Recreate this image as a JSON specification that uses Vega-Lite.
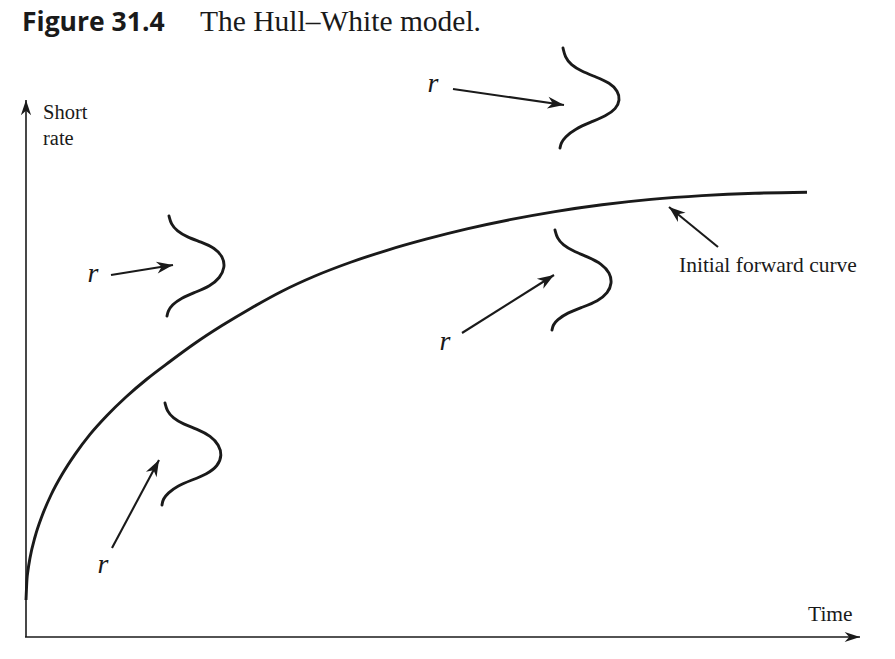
{
  "$schema": "https://vega.github.io/schema/vega-lite/v6.json",
  "width": 895,
  "height": 659,
  "autosize": {"type": "none"},
  "padding": 0,
  "background": "white",
  "config": {"view": {"stroke": null}},
  "datasets": {
    "curve": [
      {"x": 26, "y": 600}, {"x": 27, "y": 579}, {"x": 28, "y": 570.3}, {"x": 30, "y": 558}, {"x": 35, "y": 537},
      {"x": 42, "y": 516}, {"x": 51, "y": 495}, {"x": 62, "y": 474.6}, {"x": 75, "y": 454.4}, {"x": 90, "y": 434.4},
      {"x": 107, "y": 415.5}, {"x": 126, "y": 397}, {"x": 147, "y": 379}, {"x": 170, "y": 361.5}, {"x": 195, "y": 343.3},
      {"x": 222, "y": 325.6}, {"x": 251, "y": 308.2}, {"x": 282, "y": 291.2}, {"x": 315, "y": 276}, {"x": 350, "y": 262.5},
      {"x": 387, "y": 250.3}, {"x": 426, "y": 239.2}, {"x": 467, "y": 228.9}, {"x": 510, "y": 219.7}, {"x": 555, "y": 211.6},
      {"x": 602, "y": 204.8}, {"x": 651, "y": 199.4}, {"x": 702, "y": 195.6}, {"x": 755, "y": 193.2}, {"x": 807, "y": 192.2}
    ],
    "densities": [
      {"id": 1, "i": 1, "x": 563, "y": 48}, {"id": 1, "i": 2, "x": 565, "y": 57}, {"id": 1, "i": 3, "x": 571, "y": 65},
      {"id": 1, "i": 4, "x": 581, "y": 71}, {"id": 1, "i": 5, "x": 596, "y": 77}, {"id": 1, "i": 6, "x": 610, "y": 83},
      {"id": 1, "i": 7, "x": 618, "y": 91}, {"id": 1, "i": 8, "x": 620, "y": 100}, {"id": 1, "i": 9, "x": 616, "y": 109},
      {"id": 1, "i": 10, "x": 606, "y": 116}, {"id": 1, "i": 11, "x": 591, "y": 122}, {"id": 1, "i": 12, "x": 575, "y": 129},
      {"id": 1, "i": 13, "x": 565, "y": 137}, {"id": 1, "i": 14, "x": 561, "y": 143}, {"id": 1, "i": 15, "x": 560, "y": 148},
      {"id": 2, "i": 1, "x": 169, "y": 216}, {"id": 2, "i": 2, "x": 171, "y": 224}, {"id": 2, "i": 3, "x": 177, "y": 231},
      {"id": 2, "i": 4, "x": 187, "y": 237}, {"id": 2, "i": 5, "x": 201, "y": 242}, {"id": 2, "i": 6, "x": 215, "y": 248},
      {"id": 2, "i": 7, "x": 223, "y": 257}, {"id": 2, "i": 8, "x": 225, "y": 267}, {"id": 2, "i": 9, "x": 220, "y": 278},
      {"id": 2, "i": 10, "x": 210, "y": 286}, {"id": 2, "i": 11, "x": 196, "y": 292}, {"id": 2, "i": 12, "x": 181, "y": 298},
      {"id": 2, "i": 13, "x": 172, "y": 305}, {"id": 2, "i": 14, "x": 168, "y": 311}, {"id": 2, "i": 15, "x": 167, "y": 316},
      {"id": 3, "i": 1, "x": 165, "y": 403}, {"id": 3, "i": 2, "x": 167, "y": 411}, {"id": 3, "i": 3, "x": 173, "y": 418},
      {"id": 3, "i": 4, "x": 183, "y": 424}, {"id": 3, "i": 5, "x": 197, "y": 429}, {"id": 3, "i": 6, "x": 211, "y": 436},
      {"id": 3, "i": 7, "x": 219, "y": 445}, {"id": 3, "i": 8, "x": 222, "y": 455}, {"id": 3, "i": 9, "x": 218, "y": 466},
      {"id": 3, "i": 10, "x": 207, "y": 474}, {"id": 3, "i": 11, "x": 192, "y": 480}, {"id": 3, "i": 12, "x": 177, "y": 486},
      {"id": 3, "i": 13, "x": 168, "y": 493}, {"id": 3, "i": 14, "x": 163, "y": 499}, {"id": 3, "i": 15, "x": 162, "y": 505},
      {"id": 4, "i": 1, "x": 555, "y": 230}, {"id": 4, "i": 2, "x": 557, "y": 238}, {"id": 4, "i": 3, "x": 563, "y": 245},
      {"id": 4, "i": 4, "x": 573, "y": 251}, {"id": 4, "i": 5, "x": 588, "y": 257}, {"id": 4, "i": 6, "x": 602, "y": 264},
      {"id": 4, "i": 7, "x": 610, "y": 273}, {"id": 4, "i": 8, "x": 612, "y": 283}, {"id": 4, "i": 9, "x": 608, "y": 293},
      {"id": 4, "i": 10, "x": 598, "y": 301}, {"id": 4, "i": 11, "x": 583, "y": 307}, {"id": 4, "i": 12, "x": 567, "y": 313},
      {"id": 4, "i": 13, "x": 557, "y": 320}, {"id": 4, "i": 14, "x": 553, "y": 325}, {"id": 4, "i": 15, "x": 552, "y": 330}
    ],
    "arrows": [
      {"x": 453, "y": 89, "x2": 564, "y2": 105},
      {"x": 111, "y": 275, "x2": 173, "y2": 265},
      {"x": 112, "y": 548, "x2": 159, "y2": 460},
      {"x": 462, "y": 333, "x2": 554, "y2": 275},
      {"x": 718, "y": 247, "x2": 669, "y2": 207}
    ],
    "axes": [
      {"x": 26, "y": 637, "x2": 26, "y2": 100},
      {"x": 25, "y": 637, "x2": 860, "y2": 637}
    ],
    "rs": [
      {"x": 433, "y": 92, "t": "r"},
      {"x": 93, "y": 282, "t": "r"},
      {"x": 103, "y": 573, "t": "r"},
      {"x": 445, "y": 350, "t": "r"}
    ],
    "labels": [
      {"x": 43, "y": 119, "t": "Short"},
      {"x": 43, "y": 145, "t": "rate"}
    ],
    "labels2": [
      {"x": 808, "y": 621, "t": "Time"},
      {"x": 679, "y": 272, "t": "Initial forward curve"}
    ],
    "title1": [{"x": 22, "y": 31, "t": "Figure 31.4"}],
    "title2": [{"x": 200, "y": 31, "t": "The Hull–White model."}]
  },
  "layer": [
    {
      "data": {"name": "axes"},
      "mark": {"type": "rule", "color": "#1a1a1a", "strokeWidth": 1.6},
      "encoding": {
        "x": {"field": "x", "type": "quantitative", "scale": {"domain": [0, 895], "nice": false, "zero": false}, "axis": null},
        "y": {"field": "y", "type": "quantitative", "scale": {"domain": [0, 659], "nice": false, "zero": false, "reverse": true}, "axis": null},
        "x2": {"field": "x2"},
        "y2": {"field": "y2"}
      }
    },
    {
      "data": {"name": "axes"},
      "transform": [{"calculate": "atan2(datum.x2 - datum.x, datum.y - datum.y2) * 180 / PI", "as": "ang"}],
      "mark": {"type": "point", "filled": true, "color": "#1a1a1a", "opacity": 1, "strokeWidth": 0, "size": 420, "shape": "M0,0L0.5,1.5L0,1.05L-0.5,1.5Z"},
      "encoding": {
        "x": {"field": "x2", "type": "quantitative"},
        "y": {"field": "y2", "type": "quantitative"},
        "angle": {"field": "ang", "type": "quantitative", "scale": null}
      }
    },
    {
      "data": {"name": "curve"},
      "mark": {"type": "line", "color": "#1a1a1a", "strokeWidth": 2.9, "interpolate": "monotone"},
      "encoding": {
        "x": {"field": "x", "type": "quantitative"},
        "y": {"field": "y", "type": "quantitative"}
      }
    },
    {
      "data": {"name": "densities"},
      "mark": {"type": "line", "color": "#1a1a1a", "strokeWidth": 2.9, "interpolate": "basis", "strokeCap": "round"},
      "encoding": {
        "x": {"field": "x", "type": "quantitative"},
        "y": {"field": "y", "type": "quantitative"},
        "detail": {"field": "id", "type": "nominal"},
        "order": {"field": "i", "type": "quantitative"}
      }
    },
    {
      "data": {"name": "arrows"},
      "mark": {"type": "rule", "color": "#1a1a1a", "strokeWidth": 2.1},
      "encoding": {
        "x": {"field": "x", "type": "quantitative"},
        "y": {"field": "y", "type": "quantitative"},
        "x2": {"field": "x2"},
        "y2": {"field": "y2"}
      }
    },
    {
      "data": {"name": "arrows"},
      "transform": [{"calculate": "atan2(datum.x2 - datum.x, datum.y - datum.y2) * 180 / PI", "as": "ang"}],
      "mark": {"type": "point", "filled": true, "color": "#1a1a1a", "opacity": 1, "strokeWidth": 0, "size": 480, "shape": "M0,0L0.55,1.5L0,1.05L-0.55,1.5Z"},
      "encoding": {
        "x": {"field": "x2", "type": "quantitative"},
        "y": {"field": "y2", "type": "quantitative"},
        "angle": {"field": "ang", "type": "quantitative", "scale": null}
      }
    },
    {
      "data": {"name": "rs"},
      "mark": {"type": "text", "font": "Liberation Serif", "fontStyle": "italic", "fontSize": 28, "align": "center", "baseline": "alphabetic", "color": "#1a1a1a"},
      "encoding": {
        "x": {"field": "x", "type": "quantitative"},
        "y": {"field": "y", "type": "quantitative"},
        "text": {"field": "t"}
      }
    },
    {
      "data": {"name": "labels"},
      "mark": {"type": "text", "font": "Liberation Serif", "fontSize": 20.5, "align": "left", "baseline": "alphabetic", "color": "#1a1a1a"},
      "encoding": {
        "x": {"field": "x", "type": "quantitative"},
        "y": {"field": "y", "type": "quantitative"},
        "text": {"field": "t"}
      }
    },
    {
      "data": {"name": "labels2"},
      "mark": {"type": "text", "font": "Liberation Serif", "fontSize": 21.5, "align": "left", "baseline": "alphabetic", "color": "#1a1a1a"},
      "encoding": {
        "x": {"field": "x", "type": "quantitative"},
        "y": {"field": "y", "type": "quantitative"},
        "text": {"field": "t"}
      }
    },
    {
      "data": {"name": "title1"},
      "mark": {"type": "text", "font": "Open Sans", "fontWeight": "bold", "fontSize": 26.5, "align": "left", "baseline": "alphabetic", "color": "#1a1a1a"},
      "encoding": {
        "x": {"field": "x", "type": "quantitative"},
        "y": {"field": "y", "type": "quantitative"},
        "text": {"field": "t"}
      }
    },
    {
      "data": {"name": "title2"},
      "mark": {"type": "text", "font": "Liberation Serif", "fontSize": 29.5, "align": "left", "baseline": "alphabetic", "color": "#1a1a1a"},
      "encoding": {
        "x": {"field": "x", "type": "quantitative"},
        "y": {"field": "y", "type": "quantitative"},
        "text": {"field": "t"}
      }
    }
  ]
}
